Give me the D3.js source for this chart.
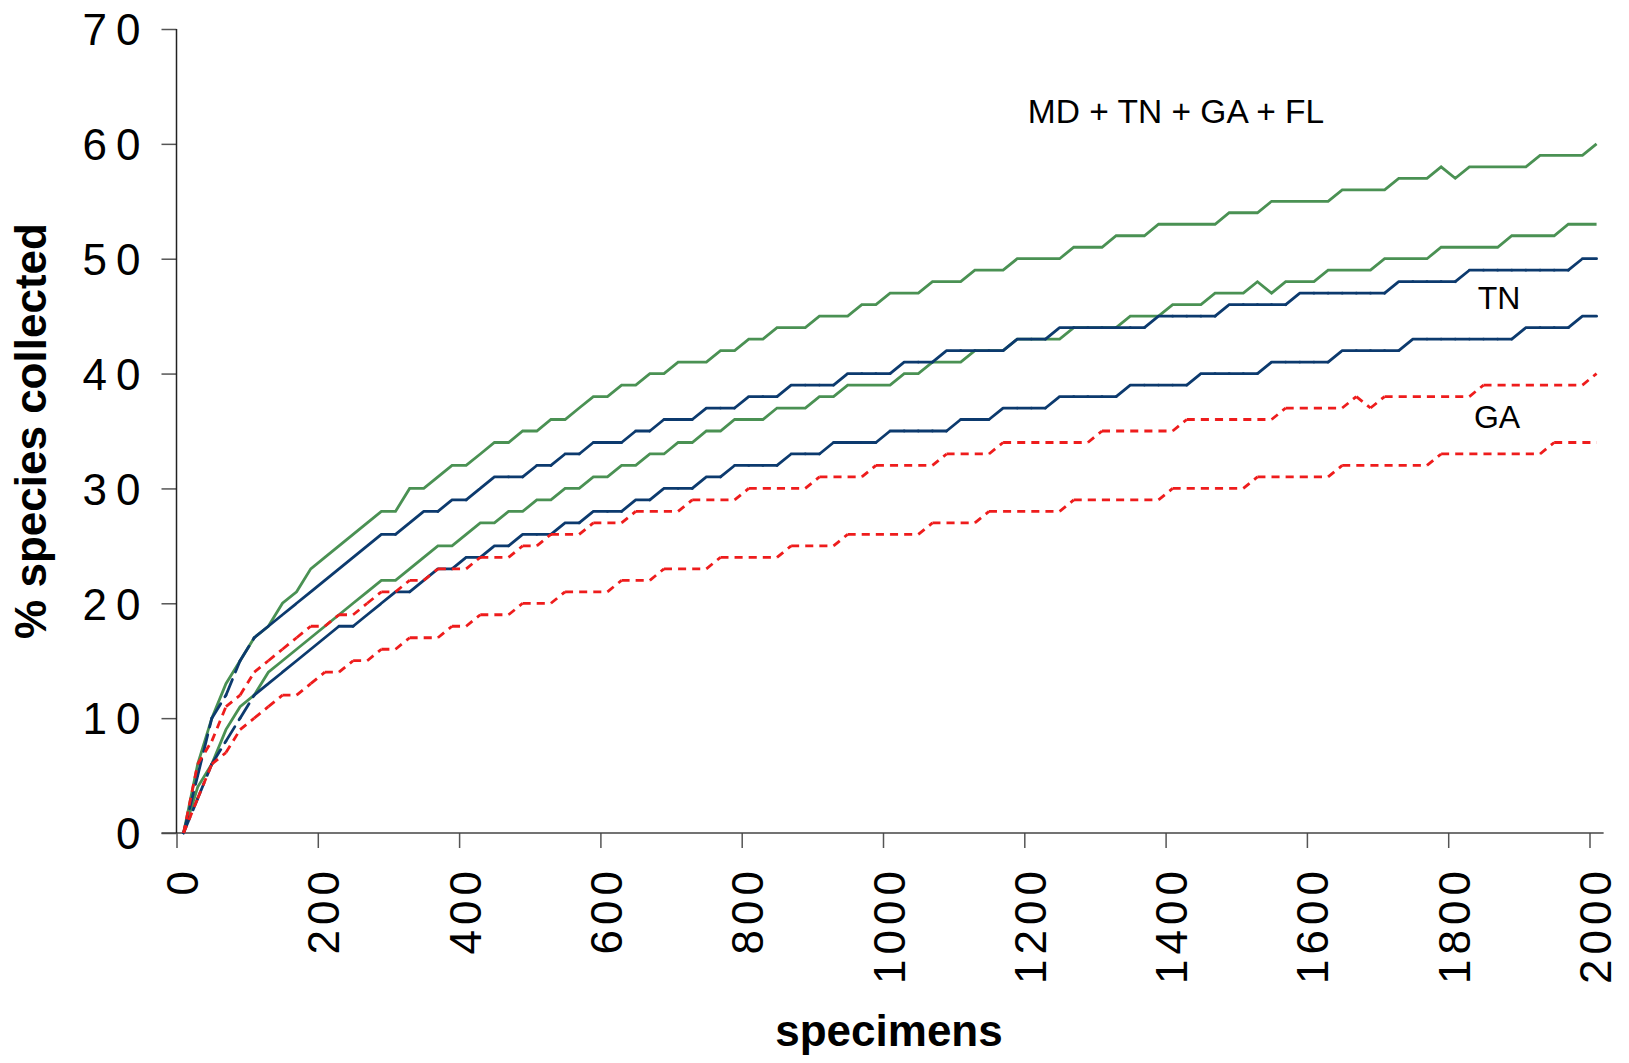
<!DOCTYPE html>
<html>
<head>
<meta charset="utf-8">
<script src="https://cdn.jsdelivr.net/npm/d3@7/dist/d3.min.js"></script>
<style>
  body { margin: 0; background: #fff; }
  text { font-family: "Liberation Sans", Arial, sans-serif; fill: #000; }
</style>
</head>
<body>
<div class="canvas"></div>
<script>
// one sample every 20 specimens, first one at 10
const specimens = d3.range(10, 2011, 20);

const xTicks = [0, 200, 400, 600, 800, 1000, 1200, 1400, 1600, 1800, 2000];
const yTicks = [0, 10, 20, 30, 40, 50, 60, 70];

// MD + TN + GA + FL (green)
const allUpper = [
  0, 6, 10, 13, 15, 17, 18, 20, 21, 23,
  24, 25, 26, 27, 28, 28, 30, 30, 31, 32,
  32, 33, 34, 34, 35, 35, 36, 36, 37, 38,
  38, 39, 39, 40, 40, 41, 41, 41, 42, 42,
  43, 43, 44, 44, 44, 45, 45, 45, 46, 46,
  47, 47, 47, 48, 48, 48, 49, 49, 49, 50,
  50, 50, 50, 51, 51, 51, 52, 52, 52, 53,
  53, 53, 53, 53, 54, 54, 54, 55, 55, 55,
  55, 55, 56, 56, 56, 56, 57, 57, 57, 58,
  57, 58, 58, 58, 58, 58, 59, 59, 59, 59,
  60];
const allLower = [
  0, 4, 6, 9, 11, 12, 14, 15, 16, 17,
  18, 19, 20, 21, 22, 22, 23, 24, 25, 25,
  26, 27, 27, 28, 28, 29, 29, 30, 30, 31,
  31, 32, 32, 33, 33, 34, 34, 35, 35, 36,
  36, 36, 37, 37, 37, 38, 38, 39, 39, 39,
  39, 40, 40, 41, 41, 41, 42, 42, 42, 43,
  43, 43, 43, 44, 44, 44, 44, 45, 45, 45,
  46, 46, 46, 47, 47, 47, 48, 47, 48, 48,
  48, 49, 49, 49, 49, 50, 50, 50, 50, 51,
  51, 51, 51, 51, 52, 52, 52, 52, 53, 53,
  53];

// TN (blue)
const tnUpper = [
  0, 5, 10, 12, 15, 17, 18, 19, 20, 21,
  22, 23, 24, 25, 26, 26, 27, 28, 28, 29,
  29, 30, 31, 31, 31, 32, 32, 33, 33, 34,
  34, 34, 35, 35, 36, 36, 36, 37, 37, 37,
  38, 38, 38, 39, 39, 39, 39, 40, 40, 40,
  40, 41, 41, 41, 42, 42, 42, 42, 42, 43,
  43, 43, 44, 44, 44, 44, 44, 44, 44, 45,
  45, 45, 45, 45, 46, 46, 46, 46, 46, 47,
  47, 47, 47, 47, 47, 47, 48, 48, 48, 48,
  48, 49, 49, 49, 49, 49, 49, 49, 49, 50,
  50];
const tnLower = [
  0, 3, 6, 8, 10, 12, 13, 14, 15, 16,
  17, 18, 18, 19, 20, 21, 21, 22, 23, 23,
  24, 24, 25, 25, 26, 26, 26, 27, 27, 28,
  28, 28, 29, 29, 30, 30, 30, 31, 31, 32,
  32, 32, 32, 33, 33, 33, 34, 34, 34, 34,
  35, 35, 35, 35, 35, 36, 36, 36, 37, 37,
  37, 37, 38, 38, 38, 38, 38, 39, 39, 39,
  39, 39, 40, 40, 40, 40, 40, 41, 41, 41,
  41, 41, 42, 42, 42, 42, 42, 43, 43, 43,
  43, 43, 43, 43, 43, 44, 44, 44, 44, 45,
  45];

// GA (red)
const gaUpper = [
  0, 6, 8, 11, 12, 14, 15, 16, 17, 18,
  18, 19, 19, 20, 21, 21, 22, 22, 23, 23,
  23, 24, 24, 24, 25, 25, 26, 26, 26, 27,
  27, 27, 28, 28, 28, 28, 29, 29, 29, 29,
  30, 30, 30, 30, 30, 31, 31, 31, 31, 32,
  32, 32, 32, 32, 33, 33, 33, 33, 34, 34,
  34, 34, 34, 34, 34, 35, 35, 35, 35, 35,
  35, 36, 36, 36, 36, 36, 36, 36, 37, 37,
  37, 37, 37, 38, 37, 38, 38, 38, 38, 38,
  38, 38, 39, 39, 39, 39, 39, 39, 39, 39,
  40];
const gaLower = [
  0, 3, 6, 7, 9, 10, 11, 12, 12, 13,
  14, 14, 15, 15, 16, 16, 17, 17, 17, 18,
  18, 19, 19, 19, 20, 20, 20, 21, 21, 21,
  21, 22, 22, 22, 23, 23, 23, 23, 24, 24,
  24, 24, 24, 25, 25, 25, 25, 26, 26, 26,
  26, 26, 26, 27, 27, 27, 27, 28, 28, 28,
  28, 28, 28, 29, 29, 29, 29, 29, 29, 29,
  30, 30, 30, 30, 30, 30, 31, 31, 31, 31,
  31, 31, 32, 32, 32, 32, 32, 32, 32, 33,
  33, 33, 33, 33, 33, 33, 33, 34, 34, 34,
  34];

const green = '#4a9153';
const navy = '#0c3a6e';
const red = '#ee1c1c';

const svg = d3.select('.canvas')
    .append('svg')
    .attr('width', 1629)
    .attr('height', 1063);

const x = d3.scaleLinear().domain([0, 2000]).range([176.5, 1589.5]);
const y = d3.scaleLinear().domain([0, 70]).range([833, 29]);

// axes
const yAxisGroup = svg.append('g').attr('transform', `translate(${x(0)},0)`);
yAxisGroup.call(d3.axisLeft(y).tickValues(yTicks).tickSize(15).tickSizeOuter(0).tickPadding(12));

const xAxisGroup = svg.append('g').attr('transform', `translate(0,${y(0)})`);
xAxisGroup.call(d3.axisBottom(x).tickValues(xTicks).tickSize(15).tickSizeOuter(0).tickFormat(d3.format('d')));

svg.selectAll('.domain').remove();
svg.append('line')
    .attr('x1', x(0) - 15).attr('x2', x(2020))
    .attr('y1', y(0)).attr('y2', y(0))
    .attr('stroke', '#444').attr('stroke-width', 1.5);
svg.append('line')
    .attr('x1', x(0)).attr('x2', x(0))
    .attr('y1', y(70)).attr('y2', y(0))
    .attr('stroke', '#222').attr('stroke-width', 1.5);
svg.selectAll('.tick line').attr('stroke', '#555').attr('stroke-width', 1.5);

yAxisGroup.selectAll('text')
    .attr('font-size', 44)
    .attr('dy', '0.36em')
    .style('letter-spacing', '9px')
    .attr('fill', '#000');

xAxisGroup.selectAll('text')
    .attr('font-size', 44)
    .style('letter-spacing', '5px')
    .attr('text-anchor', 'end')
    .attr('dy', 0)
    .attr('y', 0)
    .attr('transform', 'translate(21,33) rotate(-90)')
    .attr('fill', '#000');

// axis titles
svg.append('text')
    .attr('x', 889).attr('y', 1046)
    .attr('text-anchor', 'middle')
    .attr('font-size', 44).attr('font-weight', 'bold')
    .text('specimens');

svg.append('text')
    .attr('transform', 'translate(46,431) rotate(-90)')
    .attr('text-anchor', 'middle')
    .attr('font-size', 44).attr('font-weight', 'bold')
    .text('% species collected');

// curves
const line = d3.line()
    .x(d => x(d[0]))
    .y(d => y(d[1]));

const plot = svg.append('g');

// solid series: one path each
function solid(values, color) {
    plot.append('path')
        .datum(values.map((v, i) => [specimens[i], v]))
        .attr('d', line)
        .attr('fill', 'none')
        .attr('stroke', color)
        .attr('stroke-width', 2.8);
}

// dashed series: dash pattern restarts on every segment
function dashed(values, color, dash, cap) {
    const pts = values.map((v, i) => [specimens[i], v]);
    plot.append('g').selectAll('path')
        .data(d3.pairs(pts))
        .join('path')
        .attr('d', line)
        .attr('fill', 'none')
        .attr('stroke', color)
        .attr('stroke-width', 2.8)
        .attr('stroke-linecap', cap)
        .attr('stroke-dasharray', dash);
}

solid(allLower, green);
solid(allUpper, green);
dashed(tnLower, navy, '17,8', 'round');
dashed(tnUpper, navy, '17,8', 'round');
dashed(gaLower, red, '8,6', 'butt');
dashed(gaUpper, red, '8,6', 'butt');

// series labels
const labels = svg.append('g').attr('font-size', 32).attr('text-anchor', 'middle');
labels.append('text').attr('x', 1176).attr('y', 123).attr('font-size', 33.5).text('MD + TN + GA + FL');
labels.append('text').attr('x', 1499).attr('y', 309).text('TN');
labels.append('text').attr('x', 1497).attr('y', 428).text('GA');
</script>
</body>
</html>
